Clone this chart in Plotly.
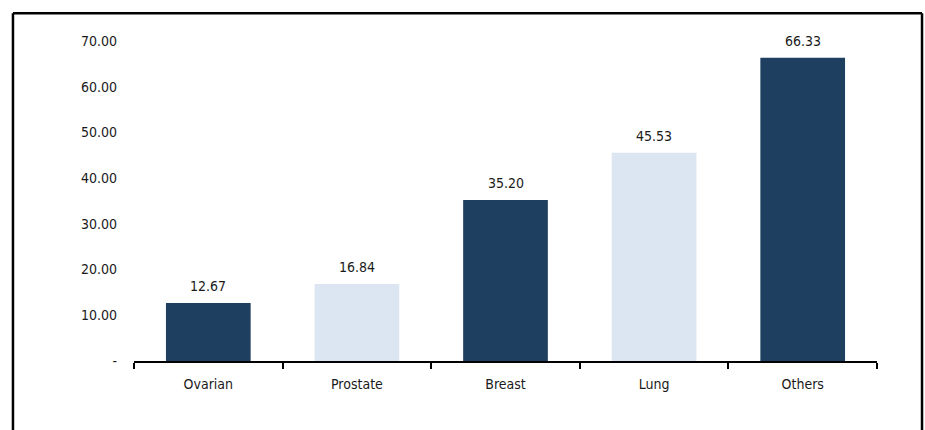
import plotly.graph_objects as go

categories = ["Ovarian", "Prostate", "Breast", "Lung", "Others"]
values = [12.67, 16.84, 35.20, 45.53, 66.33]
colors = ["#1F3F60", "#DCE6F2", "#1F3F60", "#DCE6F2", "#1F3F60"]
tick_vals = [0, 10, 20, 30, 40, 50, 60, 70]
tick_text = ["-", "10.00", "20.00", "30.00", "40.00", "50.00", "60.00", "70.00"]

FONT = "DejaVu Sans Condensed, Liberation Sans Narrow, sans-serif"
FS = 14
TXT = "#1a1a1a"

fig = go.Figure()
fig.add_trace(go.Bar(
    x=categories, y=values, marker=dict(color=colors, line=dict(width=0)),
    hoverinfo="skip",
))

for c, v in zip(categories, values):
    fig.add_annotation(x=c, y=v, text=f"{v:.2f}", showarrow=False,
                       yanchor="bottom", yshift=7,
                       font=dict(family=FONT, size=FS, color=TXT))

# outer frame
frame = dict(type="line", xref="paper", yref="paper",
             line=dict(color="black", width=2.5))
fig.add_shape(**frame, x0=-0.1629, x1=-0.1629, y0=1.087, y1=-0.5)
fig.add_shape(**frame, x0=-0.1629, x1=1.0606, y0=1.087, y1=1.087)
fig.add_shape(**frame, x0=1.0606, x1=1.0606, y0=1.087, y1=-0.5)

fig.update_layout(
    width=925, height=430,
    margin=dict(l=134, r=48, t=41, b=69),
    paper_bgcolor="white", plot_bgcolor="white",
    bargap=0.43, showlegend=False,
    font=dict(family=FONT, size=FS, color=TXT),
)
fig.update_xaxes(
    showline=True, linecolor="black", linewidth=1.5,
    ticks="outside", tickson="boundaries", ticklen=6, tickcolor="black", tickwidth=1.5,
    ticklabelstandoff=9,
    showgrid=False, tickfont=dict(family=FONT, size=FS, color=TXT),
)
fig.update_yaxes(
    range=[0, 70], tickvals=tick_vals, ticktext=tick_text,
    showgrid=False, zeroline=False, showline=False, ticks="",
    ticklabelstandoff=16, tickfont=dict(family=FONT, size=FS, color=TXT),
)

fig.write_html("out.html")
